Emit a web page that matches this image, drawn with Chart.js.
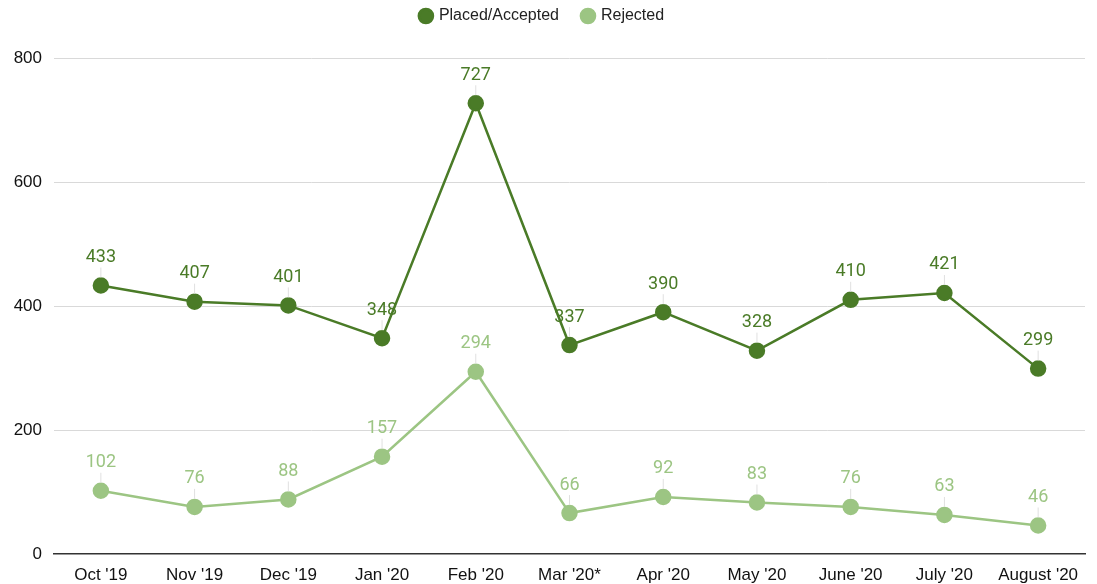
<!DOCTYPE html>
<html>
<head>
<meta charset="utf-8">
<script src="https://cdn.jsdelivr.net/npm/chart.js@4.4.0/dist/chart.umd.min.js"></script>
<style>
  html, body { margin: 0; padding: 0; background: #fff; }
  #wrap { width: 1097px; height: 584px; }
</style>
</head>
<body>
<div id="wrap"><canvas id="chart"></canvas></div>
<script>
const months = ["Oct '19", "Nov '19", "Dec '19", "Jan '20", "Feb '20", "Mar '20*", "Apr '20", "May '20", "June '20", "July '20", "August '20"];
const placed = [433, 407, 401, 348, 727, 337, 390, 328, 410, 421, 299];
const rejected = [102, 76, 88, 157, 294, 66, 92, 83, 76, 63, 46];
const yTicks = [0, 200, 400, 600, 800];

const darkGreen = '#4a7b27';
const lightGreen = '#9cc583';

// labels above each point with a faint leader line
const pointLabels = {
  id: 'pointLabels',
  afterDatasetsDraw(chart) {
    const ctx = chart.ctx;
    ctx.save();
    chart.data.datasets.forEach((ds, i) => {
      const meta = chart.getDatasetMeta(i);
      meta.data.forEach((pt, j) => {
        ctx.strokeStyle = '#e0e0e0';
        ctx.lineWidth = 1;
        ctx.beginPath();
        ctx.moveTo(pt.x, pt.y - 8);
        ctx.lineTo(pt.x, pt.y - 18);
        ctx.stroke();
        ctx.fillStyle = ds.borderColor;
        ctx.font = '18px Roboto';
        ctx.textAlign = 'center';
        ctx.textBaseline = 'middle';
        ctx.fillText(ds.data[j], pt.x, pt.y - 28);
      });
    });
    ctx.restore();
  }
};

// make the legend box taller so the plot starts lower
const legendHeight = {
  id: 'legendHeight',
  beforeInit(chart) {
    const origFit = chart.legend.fit;
    chart.legend.fit = function () {
      origFit.bind(chart.legend)();
      this.height = 74;
    };
  }
};

new Chart(document.getElementById('chart'), {
  type: 'line',
  data: {
    labels: months,
    datasets: [
      {
        label: 'Placed/Accepted',
        data: placed,
        borderColor: darkGreen,
        backgroundColor: darkGreen,
        borderWidth: 2.5,
        pointRadius: 7,
        pointHoverRadius: 7,
        fill: false
      },
      {
        label: 'Rejected',
        data: rejected,
        borderColor: lightGreen,
        backgroundColor: lightGreen,
        borderWidth: 2.5,
        pointRadius: 7,
        pointHoverRadius: 7,
        fill: false
      }
    ]
  },
  options: {
    responsive: true,
    maintainAspectRatio: false,
    animation: false,
    layout: { padding: { top: -16, right: 12, left: 0, bottom: 0 } },
    plugins: {
      legend: {
        position: 'top',
        labels: {
          usePointStyle: true,
          pointStyle: 'circle',
          boxWidth: 10,
          boxHeight: 10,
          padding: 24,
          color: '#222',
          font: { family: 'Liberation Sans', size: 16 }
        }
      },
      tooltip: { enabled: false }
    },
    scales: {
      x: {
        offset: true,
        grid: { display: false, drawTicks: false },
        border: { color: '#333', width: 1.5 },
        afterFit(axis) { axis.height = 30; },
        ticks: {
          color: '#111',
          padding: 11,
          maxRotation: 0,
          autoSkip: false,
          font: { family: 'Liberation Sans', size: 17 }
        }
      },
      y: {
        min: 0,
        max: 800,
        afterBuildTicks(axis) { axis.ticks = yTicks.map(v => ({ value: v })); },
        afterFit(axis) { axis.width = 54; },
        grid: {
          color: ctx => ctx.tick && ctx.tick.value === 0 ? 'rgba(0,0,0,0)' : '#d9d9d9',
          drawTicks: false
        },
        border: { display: false },
        ticks: {
          color: '#111',
          padding: 12,
          font: { family: 'Liberation Sans', size: 17 }
        }
      }
    }
  },
  plugins: [pointLabels, legendHeight]
});
</script>
</body>
</html>
